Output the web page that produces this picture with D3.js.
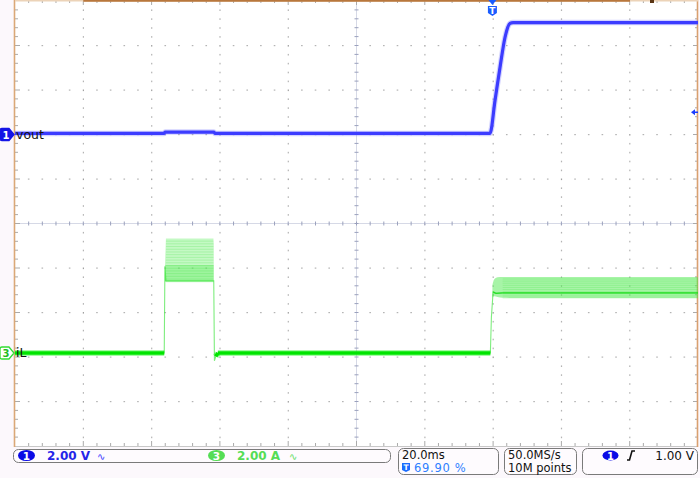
<!DOCTYPE html>
<html><head><meta charset="utf-8">
<script src="https://cdn.jsdelivr.net/npm/d3@7/dist/d3.min.js"></script>
<style>html,body{margin:0;padding:0;background:#fcf8fc;}svg{display:block;font-family:"DejaVu Sans",Verdana,sans-serif;}</style>
</head><body>
<svg id="c" width="700" height="478"></svg>
<script>
// ---- scope settings ----
const timePerDiv = 20;        // ms/div
const triggerPct = 69.90;     // % of record
const ch1VoltsPerDiv = 2.0;   // V/div
const ch3AmpsPerDiv = 2.0;    // A/div
const ch1PosDiv = 2.0;        // ground marker position (div from centre)
const ch3PosDiv = -2.91;
const trigLevel = 1.00;       // V
const statusCh1 = ["1", "2.00 V"];
const statusCh3 = ["3", "2.00 A"];
const statusTime = ["20.0ms", "69.90 %"];
const statusAcq = ["50.0MS/s", "10M points"];
const statusTrig = ["1", "1.00 V"];

// ---- vout (ch1) : time ms, volts ----
const voutT = [-139.8, -96.1, -95.9, -81.5, -81.3, -0.71, 0.76, 2.22, 3.68, 5.15, 6.03, 20, 40, 60.2];
const voutV = [0.05, 0.05, 0.11, 0.11, 0.05, 0.05, 1.53, 3.01, 4.36, 4.99, 5.03, 5.03, 5.03, 5.03];

// ---- iL (ch3) : time ms, amps (main trace) ----
const iLT = [-139.8, -96.1, -95.9, -95.6, -81.6, -81.4, -81.0, -80.4, -0.6, -0.3, 0.2, 1.0, 3.0, 20, 40, 60.2];
const iLA = [0.0, 0.0, 3.9, 3.25, 3.25, -0.35, -0.15, 0.0, 0.0, 1.6, 2.75, 2.68, 2.70, 2.70, 2.70, 2.70];
// envelope (persistence) of the switching ripple
const pulseT = [-95.9, -95.6, -81.7, -81.6];
const pulseLo = [3.25, 3.20, 3.20, 3.25];
const pulseHi = [3.9, 5.15, 5.15, 4.9];
const pulseCoreLo = [3.2, 3.2, 3.2, 3.2];
const pulseCoreHi = [3.95, 3.95, 3.95, 3.95];
const stepT = [0.0, 0.5, 1.5, 3.0, 10, 30, 60.2];
const stepLo = [2.48, 2.55, 2.52, 2.48, 2.47, 2.47, 2.47];
const stepHi = [3.05, 3.30, 3.40, 3.42, 3.42, 3.42, 3.42];

// ---- layout ----
const X0 = 15, X1 = 698, Y0 = 1, Y1 = 446;
const xDiv = (X1 - X0) / 10, yDiv = (Y1 - Y0) / 10;
const svg = d3.select("#c");

const tStart = -triggerPct / 100 * 10 * timePerDiv;
const x = d3.scaleLinear().domain([tStart, tStart + 10 * timePerDiv]).range([X0, X1]);
const y1 = d3.scaleLinear().domain([(-5 - ch1PosDiv) * ch1VoltsPerDiv, (5 - ch1PosDiv) * ch1VoltsPerDiv]).range([Y1, Y0]);
const y3 = d3.scaleLinear().domain([(-5 - ch3PosDiv) * ch3AmpsPerDiv, (5 - ch3PosDiv) * ch3AmpsPerDiv]).range([Y1, Y0]);

svg.append("rect").attr("x", X0).attr("y", 0).attr("width", X1 - X0).attr("height", Y1).attr("fill", "#ffffff");

// ---- graticule ----
const g = svg.append("g");
const dotC = "#b4b4b4";
for (let i = 1; i < 10; i++) {
  const gx = X0 + i * xDiv;
  if (i !== 5) for (let k = 1; k < 50; k++) {
    g.append("rect").attr("x", gx - 0.5).attr("y", Y0 + k * yDiv / 5 - 0.5).attr("width", 1.2).attr("height", 1.6).attr("fill", k % 5 === 0 ? "#a0a0a0" : dotC);
  }
}
for (let j = 1; j < 10; j++) {
  const gy = Y0 + j * yDiv;
  if (j !== 5) for (let k = 1; k < 50; k++) {
    if (k % 5 === 0) continue;
    g.append("rect").attr("x", X0 + k * xDiv / 5 - 0.8).attr("y", gy - 0.5).attr("width", 1.6).attr("height", 1.2).attr("fill", dotC);
  }
}
// centre cross
const cx = X0 + 5 * xDiv, cy = Y0 + 5 * yDiv;
g.append("line").attr("x1", X0).attr("x2", X1).attr("y1", cy).attr("y2", cy).attr("stroke", "#d6d9e6").attr("stroke-width", 1);
g.append("line").attr("x1", cx).attr("x2", cx).attr("y1", Y0).attr("y2", Y1).attr("stroke", "#d6d9e6").attr("stroke-width", 1);
for (let k = 1; k < 50; k++) {
  g.append("line").attr("x1", X0 + k * xDiv / 5).attr("x2", X0 + k * xDiv / 5).attr("y1", cy - 2).attr("y2", cy + 2).attr("stroke", "#9aa0bc").attr("stroke-width", 1);
  g.append("line").attr("x1", cx - 2).attr("x2", cx + 2).attr("y1", Y0 + k * yDiv / 5).attr("y2", Y0 + k * yDiv / 5).attr("stroke", "#9aa0bc").attr("stroke-width", 1);
}
// border ticks
for (let k = 1; k < 50; k++) {
  const ty = Y0 + k * yDiv / 5, tx = X0 + k * xDiv / 5;
  g.append("line").attr("x1", X0).attr("x2", X0 + (k % 5 === 0 ? 5 : 3)).attr("y1", ty).attr("y2", ty).attr("stroke", "#aaa");
  g.append("line").attr("x1", X1 - (k % 5 === 0 ? 5 : 3)).attr("x2", X1).attr("y1", ty).attr("y2", ty).attr("stroke", "#aaa");
  g.append("line").attr("x1", tx).attr("x2", tx).attr("y1", Y1 - (k % 5 === 0 ? 5 : 3)).attr("y2", Y1).attr("stroke", "#aaa");
  g.append("line").attr("x1", tx).attr("x2", tx).attr("y1", 0).attr("y2", (k % 5 === 0 ? 5 : 3)).attr("stroke", "#aaa");
}
g.append("line").attr("x1", X0).attr("x2", X1).attr("y1", Y1 + 0.5).attr("y2", Y1 + 0.5).attr("stroke", "#c8c8c8");
// frame (tan) and record bar
svg.append("line").attr("x1", X0 - 0.5).attr("x2", X0 - 0.5).attr("y1", 0).attr("y2", Y1 + 1).attr("stroke", "#dba877").attr("stroke-width", 1.6);
svg.append("line").attr("x1", X1 - 0.5).attr("x2", X1 - 0.5).attr("y1", 0).attr("y2", Y1 + 1).attr("stroke", "#d9a070").attr("stroke-width", 1.6);
svg.append("line").attr("x1", X0).attr("x2", X1).attr("y1", 0.75).attr("y2", 0.75).attr("stroke", "#ecd3b8").attr("stroke-width", 1.5);
svg.append("line").attr("x1", X0 + xDiv).attr("x2", 630).attr("y1", 0.75).attr("y2", 0.75).attr("stroke", "#b8773d").attr("stroke-width", 2);
svg.append("rect").attr("x", 650).attr("y", 0).attr("width", 4).attr("height", 3).attr("fill", "#5a3514");

// ---- traces ----
const tr = svg.append("g");
const areaP = (lo, hi) => d3.area().x((d, i) => x(pulseT[i])).y0((d, i) => y3(lo[i])).y1((d, i) => y3(hi[i]));
tr.append("path").datum(pulseT).attr("d", areaP(pulseLo, pulseHi)).attr("fill", "rgba(100,238,100,0.38)");
tr.append("path").datum(pulseT).attr("d", areaP(pulseCoreLo, pulseCoreHi)).attr("fill", "rgba(70,232,70,0.30)");
// persistence streaks
d3.range(0, 16).forEach(k => {
  const a = pulseLo[1] + (pulseHi[1] - pulseLo[1]) * k / 16;
  tr.append("line").attr("x1", x(pulseT[1])).attr("x2", x(pulseT[2])).attr("y1", y3(a)).attr("y2", y3(a)).attr("stroke", "rgba(60,225,60,0.22)").attr("stroke-width", 1);
});
const areaS = d3.area().x((d, i) => x(stepT[i])).y0((d, i) => y3(stepLo[i])).y1((d, i) => y3(stepHi[i])).curve(d3.curveMonotoneX);
tr.append("path").datum(stepT).attr("d", areaS).attr("fill", "rgba(80,234,80,0.5)");
d3.range(0, 10).forEach(k => {
  const a = stepLo[6] + (stepHi[6] - stepLo[6]) * k / 10;
  tr.append("line").attr("x1", x(stepT[3])).attr("x2", x(stepT[6])).attr("y1", y3(a)).attr("y2", y3(a)).attr("stroke", "rgba(40,225,40,0.18)").attr("stroke-width", 1);
});

// iL main trace: thin everywhere, thick on settled zero-current segments
const iLpts = iLT.map((t, i) => [x(t), y3(iLA[i])]);
tr.append("path").attr("d", d3.line()(iLpts)).attr("fill", "none").attr("stroke", "rgba(40,225,40,0.6)").attr("stroke-width", 1.1);
for (let i = 0; i < iLpts.length - 1; i++) {
  if (Math.abs(iLA[i + 1] - iLA[i]) < 0.2 && iLT[i + 1] - iLT[i] > 0.5) {
    const seg = [iLpts[i], iLpts[i + 1]];
    if (Math.abs(iLA[i]) < 0.5) {
      tr.append("path").attr("d", d3.line()(seg)).attr("stroke", "rgba(0,240,0,0.35)").attr("stroke-width", 6).attr("fill", "none");
      tr.append("path").attr("d", d3.line()(seg)).attr("stroke", "#00e400").attr("stroke-width", 3.6).attr("fill", "none");
    } else if (iLT[i] >= 0) {
      tr.append("path").attr("d", d3.line()(seg)).attr("stroke", "rgba(20,220,20,0.75)").attr("stroke-width", 1.4).attr("fill", "none");
    }
  }
}

// vout
const vpts = voutT.map((t, i) => [x(t), y1(voutV[i])]);
const vline = d3.line().curve(d3.curveMonotoneX);
tr.append("path").attr("d", vline(vpts)).attr("fill", "none").attr("stroke", "rgba(110,110,255,0.3)").attr("stroke-width", 5.5);
tr.append("path").attr("d", vline(vpts)).attr("fill", "none").attr("stroke", "#3c3cff").attr("stroke-width", 3.2);

// ---- markers ----
function chMarker(yy, label, fill, stroke, txtCol) {
  const m = svg.append("g").attr("transform", `translate(0,${yy})`);
  m.append("path").attr("d", "M2,-6 H9 L14,0 L9,6 H2 Q0,6 0,4 V-4 Q0,-6 2,-6 Z").attr("fill", fill).attr("stroke", stroke).attr("stroke-width", 1.3);
  m.append("text").attr("x", 6).attr("y", 4).attr("text-anchor", "middle").attr("font-size", 10).attr("font-weight", "bold").attr("fill", txtCol).text(label);
}
chMarker(y1(0), "1", "#1414e6", "#1414e6", "#fff");
svg.append("text").attr("x", 16).attr("y", y1(0) + 4.5).attr("font-size", 12.5).attr("fill", "#111").text("vout");
chMarker(y3(0), "3", "#ffffff", "#33dd33", "#22bb22");
svg.append("text").attr("x", 16).attr("y", y3(0) + 4.5).attr("font-size", 12.5).attr("fill", "#111").text("iL");

// trigger position marker
const tx0 = x(0);
svg.append("path").attr("d", `M${tx0 - 4},0 L${tx0 + 4},0 L${tx0},5 Z`).attr("fill", "#1a5cff");
svg.append("path").attr("d", `M${tx0 - 4.5},6 H${tx0 + 4.5} V13 L${tx0},16 L${tx0 - 4.5},13 Z`).attr("fill", "#1a5cff");
svg.append("text").attr("x", tx0).attr("y", 14).attr("text-anchor", "middle").attr("font-size", 9).attr("font-weight", "bold").attr("fill", "#fff").text("T");
// trigger level marker
const tly = y1(trigLevel);
svg.append("path").attr("d", `M${X1 - 7},${tly} L${X1 - 3},${tly - 3} L${X1 - 3},${tly + 3} Z`).attr("fill", "#1a3cff");
svg.append("line").attr("x1", X1 - 4).attr("x2", X1).attr("y1", tly).attr("y2", tly).attr("stroke", "#1a3cff").attr("stroke-width", 1.5);

// ---- status bar ----
const sb = svg.append("g");
function box(x0, y0, w, h) {
  sb.append("rect").attr("x", x0 + 0.5).attr("y", y0 + 0.5).attr("width", w).attr("height", h).attr("rx", 5).attr("fill", "#fefbfe").attr("stroke", "#7a7a7a").attr("stroke-width", 1);
}
box(13, 449, 377, 13);
box(398, 448, 100, 26);
box(504, 448, 72, 26);
box(582, 448, 115, 26);
function badge(cx0, cy0, label, fill) {
  sb.append("ellipse").attr("cx", cx0).attr("cy", cy0).attr("rx", 8.5).attr("ry", 5.5).attr("fill", fill);
  sb.append("text").attr("x", cx0).attr("y", cy0 + 4).attr("text-anchor", "middle").attr("font-size", 10.5).attr("font-weight", "bold").attr("fill", "#fff").text(label);
}
badge(26.5, 455.5, statusCh1[0], "#0a0ae6");
sb.append("text").attr("x", 47).attr("y", 460).attr("font-size", 12).attr("font-weight", "bold").attr("fill", "#2424e8").text(statusCh1[1]);
sb.append("text").attr("x", 97).attr("y", 460).attr("font-size", 10).attr("fill", "#3a3aff").text("∿");
badge(216.5, 455.5, statusCh3[0], "#55dd55");
sb.append("text").attr("x", 237).attr("y", 460).attr("font-size", 12).attr("font-weight", "bold").attr("fill", "#55dd55").text(statusCh3[1]);
sb.append("text").attr("x", 289).attr("y", 460).attr("font-size", 10).attr("fill", "#66dd66").text("∿");

sb.append("text").attr("x", 402).attr("y", 458.5).attr("font-size", 11.5).attr("fill", "#111").text(statusTime[0]);
sb.append("path").attr("d", "M402,463 H410 V470 L406,472 L402,470 Z").attr("fill", "#1a6cff");
sb.append("text").attr("x", 406).attr("y", 470).attr("text-anchor", "middle").attr("font-size", 7.5).attr("font-weight", "bold").attr("fill", "#fff").text("T");
sb.append("text").attr("x", 414).attr("y", 472).attr("font-size", 11.5).attr("letter-spacing", 0.7).attr("fill", "#2f7fff").text(statusTime[1]);

sb.append("text").attr("x", 508).attr("y", 458.5).attr("font-size", 11.5).attr("fill", "#111").text(statusAcq[0]);
sb.append("text").attr("x", 508).attr("y", 472).attr("font-size", 11.5).attr("fill", "#111").text(statusAcq[1]);

sb.append("ellipse").attr("cx", 610.5).attr("cy", 455.5).attr("rx", 8).attr("ry", 5).attr("fill", "#0a0ae6");
sb.append("text").attr("x", 610.5).attr("y", 459.5).attr("text-anchor", "middle").attr("font-size", 10).attr("font-weight", "bold").attr("fill", "#fff").text(statusTrig[0]);
sb.append("path").attr("d", "M627,460 H629.5 L632,451 H635").attr("fill", "none").attr("stroke", "#111").attr("stroke-width", 1.6);
sb.append("text").attr("x", 694).attr("y", 460).attr("text-anchor", "end").attr("font-size", 12).attr("fill", "#111").text(statusTrig[1]);
</script>
</body></html>
